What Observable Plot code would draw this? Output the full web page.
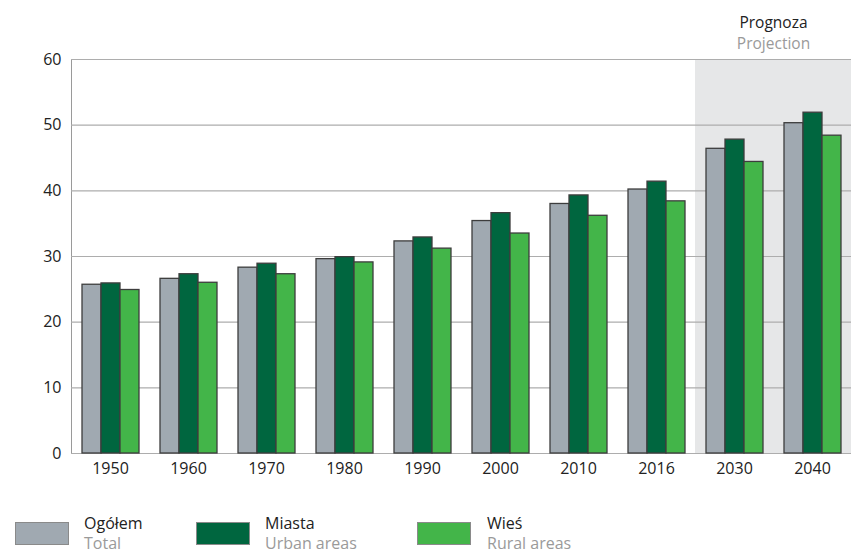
<!DOCTYPE html>
<html>
<head>
<meta charset="utf-8">
<script src="https://cdn.jsdelivr.net/npm/d3@7"></script>
<script src="https://cdn.jsdelivr.net/npm/@observablehq/plot@0.6"></script>
<style>
  body { margin: 0; background: #fff; font-family: "Open Sans", sans-serif; }
  #wrap { position: relative; width: 851px; height: 554px; overflow: hidden; }
  #chart { position: absolute; left: 0; top: 0; }
  #chart g[aria-label^="y-axis tick label"], #chart g[aria-label^="fx-axis tick label"] { fill: #222; }
  .leg { position: absolute; top: 513px; }
  .sw { position: absolute; left: 0; top: 9px; width: 54px; height: 23px; border: 1px solid #8a8a8a; box-sizing: border-box; }
  .lt { position: absolute; top: 0; font-size: 16px; line-height: 20px; color: #222; white-space: nowrap; }
  .lt span { display: block; color: #9a9a9a; }
</style>
</head>
<body>
<div id="wrap">
  <div id="chart"></div>
  <div id="legend"></div>
</div>
<script>
const years = ["1950","1960","1970","1980","1990","2000","2010","2016","2030","2040"];
const total = [25.7, 26.6, 28.3, 29.6, 32.3, 35.4, 38.0, 40.2, 46.4, 50.3];
const urban = [25.9, 27.3, 28.9, 29.9, 32.9, 36.6, 39.3, 41.4, 47.8, 51.9];
const rural = [24.9, 26.0, 27.3, 29.1, 31.2, 33.5, 36.2, 38.4, 44.4, 48.4];
const seriesNames = ["Ogółem", "Miasta", "Wieś"];
const seriesEnglish = ["Total", "Urban areas", "Rural areas"];
const seriesColors = ["#a0a9b1", "#00663f", "#43b549"];
const projectionYears = ["2030", "2040"];
const projectionLabel = ["Prognoza", "Projection"];
const yTicks = [0, 10, 20, 30, 40, 50, 60];

const values = [total, urban, rural];
const data = [];
years.forEach((y, i) => seriesNames.forEach((s, j) => data.push({year: y, series: s, value: values[j][i]})));
const shade = projectionYears.map(y => ({year: y, lo: yTicks[0], hi: yTicks[yTicks.length - 1]}));

const chart = Plot.plot({
  width: 851,
  height: 483,
  marginLeft: 71,
  marginRight: 0,
  marginTop: 59,
  marginBottom: 30,
  style: {fontFamily: "'Open Sans', sans-serif", fontSize: "16px", color: "#9a9a9a", background: "transparent"},
  fx: {domain: years, padding: 0, label: null, tickSize: 0, tickPadding: 9},
  x: {domain: seriesNames, paddingInner: 0, paddingOuter: 0.47, axis: null},
  y: {domain: [0, 60], ticks: yTicks, label: null, tickSize: 0, tickPadding: 10, line: true},
  color: {domain: seriesNames, range: seriesColors},
  marks: [
    Plot.barY(shade, {fx: "year", y1: "lo", y2: "hi", fill: "#e6e7e8"}),
    Plot.ruleY(yTicks, {stroke: "#adadad", strokeWidth: 1.2}),
    Plot.barY(data, {fx: "year", x: "series", y: "value", fill: "series", stroke: "#3d3d3d", strokeWidth: 1.3}),
    Plot.text([{year: projectionYears[0], t: projectionLabel[0]}], {fx: "year", text: "t", frameAnchor: "top-right", textAnchor: "middle", dy: -43, fill: "#222", fontSize: 15.5}),
    Plot.text([{year: projectionYears[0], t: projectionLabel[1]}], {fx: "year", text: "t", frameAnchor: "top-right", textAnchor: "middle", dy: -22, fill: "#9a9a9a", fontSize: 15.5})
  ]
});
document.getElementById("chart").appendChild(chart);

const swatchLefts = [15, 196, 417];
const textLefts = [84, 265, 487];
const legend = document.getElementById("legend");
seriesNames.forEach((s, i) => {
  const d = document.createElement("div");
  d.className = "leg";
  d.style.left = "0px";
  d.innerHTML = `<div class="sw" style="left:${swatchLefts[i]}px;background:${seriesColors[i]}"></div><div class="lt" style="left:${textLefts[i]}px">${s}<span>${seriesEnglish[i]}</span></div>`;
  legend.appendChild(d);
});
</script>
</body>
</html>
